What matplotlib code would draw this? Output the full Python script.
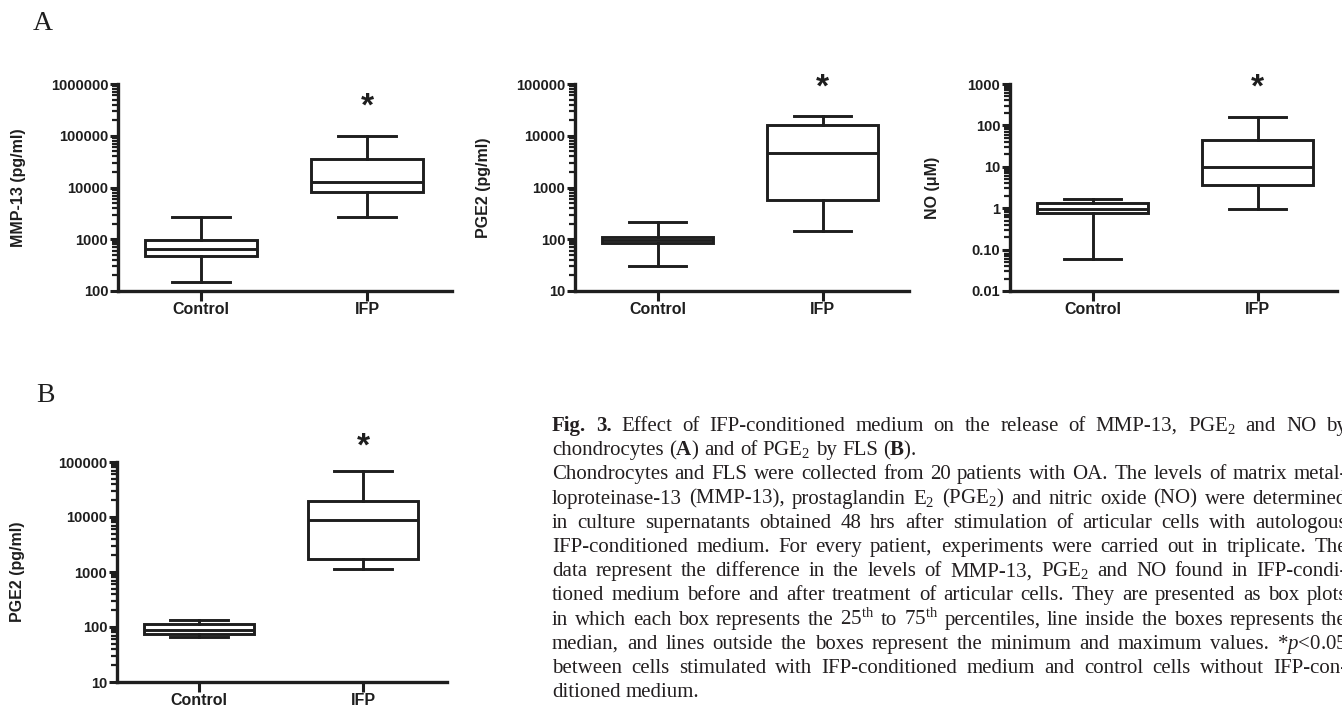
import matplotlib
matplotlib.use('Agg')
import matplotlib.pyplot as plt
from matplotlib.ticker import LogLocator, FuncFormatter, NullFormatter

W, H = 1342, 707
DPI = 100

plt.rcParams['mathtext.fontset'] = 'custom'
plt.rcParams['mathtext.rm'] = 'Liberation Serif'
plt.rcParams['mathtext.it'] = 'Liberation Serif:italic'
plt.rcParams['mathtext.bf'] = 'Liberation Serif:bold'

# ---------------- data ----------------
categories = ['Control', 'IFP']

# Panel A - chondrocytes
mmp13_min = [150, 2650]
mmp13_q1 = [475, 8300]
mmp13_med = [650, 13000]
mmp13_q3 = [950, 35500]
mmp13_max = [2700, 99000]

pge2_a_min = [30, 146]
pge2_a_q1 = [83, 575]
pge2_a_med = [97, 4700]
pge2_a_q3 = [112, 16000]
pge2_a_max = [218, 24500]

no_min = [0.058, 0.96]
no_q1 = [0.78, 3.6]
no_med = [0.96, 10]
no_q3 = [1.31, 44.5]
no_max = [1.64, 162]

# Panel B - FLS
pge2_b_min = [66, 1150]
pge2_b_q1 = [74, 1750]
pge2_b_med = [90, 8700]
pge2_b_q3 = [115, 19500]
pge2_b_max = [136, 69000]

caption_lines = [
    "Fig. 3. Effect of IFP-conditioned medium on the release of MMP-13, PGE$_2$ and NO by",
    "chondrocytes ($\\mathbf{A}$) and of PGE$_2$ by FLS ($\\mathbf{B}$).",
    "Chondrocytes and FLS were collected from 20 patients with OA. The levels of matrix metal-",
    "loproteinase-13 (MMP-13), prostaglandin E$_2$ (PGE$_2$) and nitric oxide (NO) were determined",
    "in culture supernatants obtained 48 hrs after stimulation of articular cells with autologous",
    "IFP-conditioned medium. For every patient, experiments were carried out in triplicate. The",
    "data represent the difference in the levels of MMP-13, PGE$_2$ and NO found in IFP-condi-",
    "tioned medium before and after treatment of articular cells. They are presented as box plots",
    "in which each box represents the 25$^{\\mathrm{th}}$ to 75$^{\\mathrm{th}}$ percentiles, line inside the boxes represents the",
    "median, and lines outside the boxes represent the minimum and maximum values. *$p$<0.05",
    "between cells stimulated with IFP-conditioned medium and control cells without IFP-con-",
    "ditioned medium.",
]
caption_justify = [True, False, True, True, True, True, True, True, True, True, True, False]

# ---------------- figure ----------------
fig = plt.figure(figsize=(W / DPI, H / DPI), dpi=DPI)
INK = '#1e1e1e'
SANS = 'Liberation Sans'
SERIF = 'Liberation Serif'


def px_axes(left, top, right, bottom):
    return fig.add_axes([left / W, 1 - bottom / H, (right - left) / W, (bottom - top) / H])


def fmt_int(v, pos):
    if v >= 1:
        return '%d' % round(v)
    return '%.2f' % v


def box_panel(ax, mins, q1s, meds, q3s, maxs, ylim, ylabel, star_y, span):
    stats = []
    for i, c in enumerate(categories):
        stats.append(dict(label=c, whislo=mins[i], q1=q1s[i], med=meds[i],
                          q3=q3s[i], whishi=maxs[i], fliers=[]))
    lw = 2.1
    ax.bxp(stats, positions=[1, 2], widths=0.67, capwidths=0.35,
           showfliers=False, patch_artist=True,
           boxprops=dict(facecolor='white', edgecolor=INK, linewidth=lw),
           medianprops=dict(color=INK, linewidth=lw),
           whiskerprops=dict(color=INK, linewidth=lw),
           capprops=dict(color=INK, linewidth=lw))
    ax.set_yscale('log')
    ax.set_ylim(*ylim)
    ax.set_xlim(0.5, 0.5 + span)
    for s in ['top', 'right']:
        ax.spines[s].set_visible(False)
    for s in ['left', 'bottom']:
        ax.spines[s].set_linewidth(2.4)
        ax.spines[s].set_color(INK)
    ax.yaxis.set_major_locator(LogLocator(base=10, numticks=20))
    ax.yaxis.set_minor_locator(LogLocator(base=10, subs=[2, 3, 4, 5, 6, 7, 8, 9], numticks=20))
    ax.yaxis.set_major_formatter(FuncFormatter(fmt_int))
    ax.yaxis.set_minor_formatter(NullFormatter())
    ax.tick_params(axis='y', which='major', length=6, width=2.2, color=INK, pad=1,
                   labelsize=10.5, labelcolor=INK)
    ax.tick_params(axis='y', which='minor', length=4, width=1.6, color=INK)
    ax.tick_params(axis='x', which='major', length=7, width=2.2, color=INK, pad=1,
                   labelsize=11.5, labelcolor=INK)
    ax.set_xticks([1, 2])
    ax.set_xticklabels(categories)
    for lab in ax.get_xticklabels() + ax.get_yticklabels():
        lab.set_fontfamily(SANS)
        lab.set_fontweight('bold')
    ax.set_ylabel(ylabel, fontfamily=SANS, fontweight='bold', fontsize=11.5, color=INK)
    ax.text(2, star_y, '*', ha='center', va='center', fontsize=24, fontweight='bold',
            fontfamily=SANS, color=INK, clip_on=False)
    ax.set_facecolor('none')


ax1 = px_axes(118, 84, 452, 291)
box_panel(ax1, mmp13_min, mmp13_q1, mmp13_med, mmp13_q3, mmp13_max, (100, 1e6),
          'MMP-13 (pg/ml)', 3.6e5, 334 / 166)
ax1.yaxis.set_label_coords(-92 / 334, 0.5)

ax2 = px_axes(575, 84, 909, 291)
box_panel(ax2, pge2_a_min, pge2_a_q1, pge2_a_med, pge2_a_q3, pge2_a_max, (10, 1e5),
          'PGE2 (pg/ml)', 8.5e4, 334 / 165)
ax2.yaxis.set_label_coords(-84 / 334, 0.5)

ax3 = px_axes(1010, 84, 1337, 291)
box_panel(ax3, no_min, no_q1, no_med, no_q3, no_max, (0.01, 1000),
          'NO (μM)', 800, 327 / 165)
ax3.yaxis.set_label_coords(-70 / 327, 0.5)

ax4 = px_axes(117, 462, 447, 682)
box_panel(ax4, pge2_b_min, pge2_b_q1, pge2_b_med, pge2_b_q3, pge2_b_max, (10, 1e5),
          'PGE2 (pg/ml)', 1.9e5, 330 / 164)
ax4.yaxis.set_label_coords(-92 / 330, 0.5)

# panel letters
fig.text(43 / W, 1 - 23 / H, 'A', fontfamily=SERIF, fontsize=20, color=INK,
         ha='center', va='center')
fig.text(45 / W, 1 - 395 / H, 'B', fontfamily=SERIF, fontsize=20, color=INK,
         ha='center', va='center')

# ---------------- caption (justified) ----------------
renderer = fig.canvas.get_renderer()
CAP_FS = 15
X0, X1 = 552, 1347
Y0, DY = 431, 24.2


def make_text(x, y, s, bold=False):
    return fig.text(x / W, 1 - y / H, s, fontfamily=SERIF, fontsize=CAP_FS, color='#231f20',
                    fontweight='bold' if bold else 'normal', ha='left', va='baseline')


probe1 = make_text(0, -100, 'x x')
probe2 = make_text(0, -100, 'xx')
space_w = probe1.get_window_extent(renderer).width - probe2.get_window_extent(renderer).width
probe1.remove()
probe2.remove()

for k, line in enumerate(caption_lines):
    y = Y0 + DY * k
    words = line.split(' ')
    objs = []
    for i, w in enumerate(words):
        bold = (k == 0 and i < 2)
        objs.append(make_text(X0, y, w, bold))
    widths = [o.get_window_extent(renderer).width for o in objs]
    if caption_justify[k] and len(words) > 1:
        gap = (X1 - X0 - sum(widths)) / (len(words) - 1)
        gap = max(gap, 0.45 * space_w)
    else:
        gap = space_w
    x = X0
    for o, wd in zip(objs, widths):
        o.set_x(x / W)
        x += wd + gap

fig.savefig('out.png', dpi=DPI)
